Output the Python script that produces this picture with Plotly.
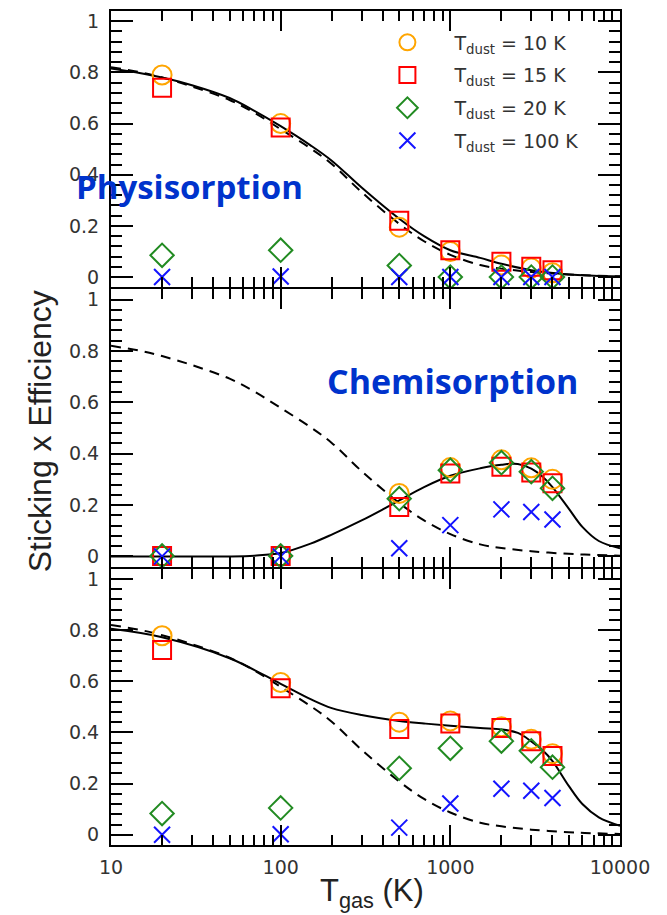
import plotly.graph_objects as go

# Gas temperatures at which the sticking x efficiency was evaluated
t_gas = [20, 100, 500, 1000, 2000, 3000, 4000]

# Physisorption panel: one list per dust temperature
phys_10 = [0.79, 0.60, 0.195, 0.10, 0.047, 0.035, 0.017]
phys_15 = [0.74, 0.585, 0.22, 0.105, 0.06, 0.04, 0.027]
phys_20 = [0.085, 0.105, 0.045, 0.0, 0.0, 0.0, 0.0]
phys_100 = [0.0, 0.002, 0.0, 0.0, 0.0, 0.0, 0.0]

# Chemisorption panel
chem_10 = [0.002, 0.002, 0.245, 0.346, 0.376, 0.345, 0.30]
chem_15 = [0.002, 0.002, 0.192, 0.323, 0.349, 0.327, 0.285]
chem_20 = [0.002, 0.002, 0.225, 0.336, 0.365, 0.33, 0.265]
chem_100 = [0.0, 0.0, 0.032, 0.122, 0.183, 0.173, 0.144]

# Combined panel
total_10 = [0.778, 0.595, 0.44, 0.445, 0.422, 0.373, 0.317]
total_15 = [0.722, 0.573, 0.413, 0.435, 0.417, 0.366, 0.308]
total_20 = [0.083, 0.105, 0.26, 0.338, 0.366, 0.328, 0.264]
total_100 = [0.0, 0.002, 0.028, 0.122, 0.18, 0.172, 0.144]

# Model curves
phys_fit_t = [10, 15, 20, 30, 50, 70, 100, 150, 200, 300, 500, 700, 1000,
              1500, 2000, 3000, 5000, 7000, 10000]
phys_fit = [0.815, 0.797, 0.78, 0.75, 0.70, 0.65, 0.59, 0.515, 0.455, 0.35,
            0.228, 0.16, 0.105, 0.075, 0.052, 0.027, 0.01, 0.005, 0.002]

phys_dash_t = [10, 15, 20, 30, 50, 70, 100, 150, 200, 300, 500, 700, 1000,
               1500, 2000, 3000, 5000, 7000, 10000]
phys_dash = [0.82, 0.80, 0.78, 0.745, 0.692, 0.642, 0.578, 0.503, 0.442,
             0.332, 0.208, 0.14, 0.087, 0.047, 0.033, 0.02, 0.01, 0.006, 0.003]

chem_fit_t = [10, 20, 50, 70, 100, 150, 200, 300, 400, 500, 700, 1000, 1500,
              2000, 2500, 3000, 3500, 4000, 5000, 6000, 7500, 10000]
chem_fit = [0.0, 0.0, 0.0, 0.003, 0.013, 0.05, 0.085, 0.14, 0.183, 0.218,
            0.27, 0.314, 0.343, 0.357, 0.36, 0.342, 0.31, 0.27, 0.185, 0.115,
            0.06, 0.032]

total_fit_t = [10, 20, 50, 100, 150, 200, 300, 500, 700, 1000, 1500, 2000,
               2500, 3000, 3500, 4000, 5000, 6000, 7500, 10000]
total_fit = [0.805, 0.772, 0.69, 0.59, 0.53, 0.495, 0.468, 0.445, 0.435,
             0.426, 0.417, 0.412, 0.398, 0.365, 0.33, 0.288, 0.19, 0.12, 0.068,
             0.035]

dust_labels = ["T<sub>dust</sub> = 10 K", "T<sub>dust</sub> = 15 K",
               "T<sub>dust</sub> = 20 K", "T<sub>dust</sub> = 100 K"]
x_ticks = [10, 100, 1000, 10000]
x_ticktext = ["10", "100", "1000", "10000"]
y_ticks = [0, 0.2, 0.4, 0.6, 0.8, 1.0]
y_ticktext = ["0", "0.2", "0.4", "0.6", "0.8", "1"]

styles = [
    dict(symbol="circle-open", color="#FFA500", size=19),
    dict(symbol="square-open", color="#FF0000", size=18),
    dict(symbol="diamond-open", color="#228B22", size=18),
    dict(symbol="x-thin-open", color="#1414FF", size=16),
]

fig = go.Figure()

panels = [
    ("x", "y", [phys_10, phys_15, phys_20, phys_100],
     [(phys_fit_t, phys_fit, "solid"), (phys_dash_t, phys_dash, "dash")]),
    ("x2", "y2", [chem_10, chem_15, chem_20, chem_100],
     [(chem_fit_t, chem_fit, "solid"), (phys_dash_t, phys_dash, "dash")]),
    ("x3", "y3", [total_10, total_15, total_20, total_100],
     [(total_fit_t, total_fit, "solid"), (phys_dash_t, phys_dash, "dash")]),
]

for p, (xa, ya, series, curves) in enumerate(panels):
    for ct, cv, kind in curves:
        fig.add_trace(go.Scatter(
            x=ct, y=cv, xaxis=xa, yaxis=ya, mode="lines",
            line=dict(color="black", width=2, shape="spline", smoothing=1.0,
                      dash="solid" if kind == "solid" else "10px,7px"),
            showlegend=False, hoverinfo="skip"))
    for i, vals in enumerate(series):
        st = styles[i]
        fig.add_trace(go.Scatter(
            x=t_gas, y=vals, xaxis=xa, yaxis=ya, mode="markers",
            name=dust_labels[i], legendgroup=f"g{i}", showlegend=(p == 0),
            marker=dict(symbol=st["symbol"], size=st["size"],
                        color=st["color"],
                        line=dict(color=st["color"], width=2))))

minor_x = [m * 10 ** e for e in range(1, 4) for m in range(2, 10)]

def x_axis(show_labels, anchor):
    return dict(
        type="log", range=[1, 4], anchor=anchor, domain=[0, 1],
        showgrid=False, zeroline=False, showline=True, linecolor="black",
        linewidth=2, mirror="allticks", ticks="inside", ticklen=20,
        tickwidth=2, tickcolor="black", tickvals=x_ticks,
        ticktext=x_ticktext, showticklabels=show_labels,
        tickfont=dict(family="DejaVu Sans", size=19, color="#333333"),
        ticklabelstandoff=4,
        minor=dict(ticks="inside", ticklen=10, tickwidth=2,
                   tickcolor="black", tickvals=minor_x, showgrid=False))

def y_axis(domain, anchor):
    return dict(
        range=[-0.04, 1.04], domain=domain, anchor=anchor,
        showgrid=False, zeroline=False, showline=True, linecolor="black",
        linewidth=2, mirror="allticks", ticks="inside", ticklen=22,
        tickwidth=2, tickcolor="black", tickvals=y_ticks,
        ticktext=y_ticktext,
        tickfont=dict(family="DejaVu Sans", size=19, color="#333333"),
        ticklabelstandoff=6,
        minor=dict(ticks="inside", ticklen=11, tickwidth=2,
                   tickcolor="black", tick0=0, dtick=0.04, showgrid=False))

fig.update_layout(
    width=667, height=915,
    margin=dict(l=111, r=47, t=9, b=70),
    paper_bgcolor="white", plot_bgcolor="white",
    xaxis=x_axis(False, "y"),
    xaxis2=x_axis(False, "y2"),
    xaxis3=x_axis(True, "y3"),
    yaxis=y_axis([0.6687, 1.0], "x"),
    yaxis2=y_axis([0.3337, 0.6663], "x2"),
    yaxis3=y_axis([0.0, 0.3313], "x3"),
    legend=dict(x=0.49, y=0.985, xanchor="left", yanchor="top",
                bgcolor="rgba(0,0,0,0)", itemwidth=84, tracegroupgap=5,
                font=dict(family="DejaVu Sans", size=19, color="#333333")),
    annotations=[
        dict(text="Physisorption", xref="paper", yref="paper", x=0.155,
             y=0.789, xanchor="center", yanchor="middle", showarrow=False,
             font=dict(family="Open Sans", size=33, color="#0033CC",
                       weight="bold")),
        dict(text="Chemisorption", xref="paper", yref="paper", x=0.671,
             y=0.556, xanchor="center", yanchor="middle", showarrow=False,
             font=dict(family="Open Sans", size=34, color="#0033CC",
                       weight="bold")),
        dict(text="Sticking x Efficiency", xref="paper", yref="paper",
             x=-0.1395, y=0.496, xanchor="center", yanchor="middle",
             textangle=-90, showarrow=False,
             font=dict(family="Liberation Sans", size=32, color="#222222")),
        dict(text="T<sub>gas</sub> (K)", xref="paper", yref="paper",
             x=0.513, y=-0.057, xanchor="center", yanchor="middle",
             showarrow=False,
             font=dict(family="Liberation Sans", size=31, color="#222222")),
    ],
)

fig.write_html("out.html")
